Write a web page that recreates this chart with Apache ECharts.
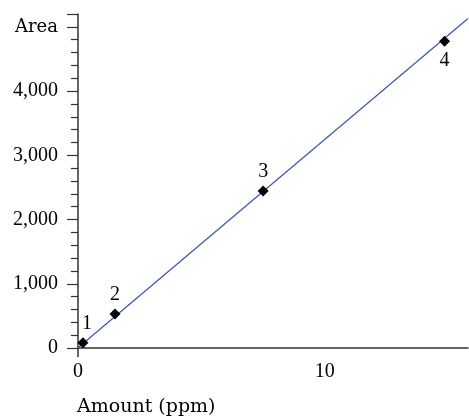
<!DOCTYPE html>
<html><head><meta charset="utf-8">
<script src="https://cdn.jsdelivr.net/npm/echarts@6/dist/echarts.min.js"></script>
<style>html,body{margin:0;padding:0;background:#fff}#c{width:469px;height:418px}</style>
</head><body><div id="c"></div>
<script>
var amounts = [0.2, 1.5, 7.5, 14.85];
var areas = [80, 530, 2445, 4775];
var pointLabels = ['1', '2', '3', '4'];
var labelPositions = ['top', 'top', 'top', 'bottom'];
var fitLineX = [0, 15.8];
var fitLineY = [5, 5130];
var yTickLabels = {0: '0', 1000: '1,000', 2000: '2,000', 3000: '3,000', 4000: '4,000', 5000: 'Area'};
var xTickValues = [0, 10];

var FONT = 'Liberation Serif';
var FONT2 = 'DejaVu Serif';
var chart = echarts.init(document.getElementById('c'), null, {renderer: 'canvas'});
var pts = amounts.map(function (x, i) {
  return {value: [x, areas[i]], label: {show: true, formatter: pointLabels[i], position: labelPositions[i], distance: 4, offset: i === 0 ? [4, 0] : [0, 0]}};
});
chart.setOption({
  animation: false,
  grid: {left: 78, right: 1, top: 14, bottom: 70, containLabel: false},
  title: {text: 'Amount (ppm)', left: 72, top: 393, textStyle: {fontFamily: FONT2, fontSize: 19, fontWeight: 'normal', color: '#000'}},
  xAxis: {
    type: 'value', min: 0, max: 15.8, interval: 10,
    axisLine: {show: true, onZero: false, lineStyle: {color: '#333', width: 1.5}},
    axisTick: {show: true, customValues: [0], length: 9, lineStyle: {color: '#333', width: 1.5}},
    axisLabel: {customValues: xTickValues, fontFamily: FONT, fontSize: 20, color: '#000', margin: 14},
    splitLine: {show: false}
  },
  yAxis: {
    type: 'value', min: 0, max: 5200, interval: 1000,
    axisLine: {show: true, onZero: false, lineStyle: {color: '#333', width: 1.5}},
    axisTick: {show: true, length: 11, lineStyle: {color: '#333', width: 1.2}},
    minorTick: {show: true, splitNumber: 5, length: 7, lineStyle: {color: '#333', width: 1.2}},
    axisLabel: {showMaxLabel: false, fontFamily: FONT, fontSize: 20, color: '#000', margin: 20,
      formatter: function (v) {
        if (v === 5000) return '{a|' + yTickLabels[v] + '}';
        return yTickLabels[v] !== undefined ? yTickLabels[v] : '';
      },
      rich: {a: {fontFamily: FONT2, fontSize: 18, color: '#000'}}},
    splitLine: {show: false}
  },
  series: [
    {type: 'line', data: fitLineX.map(function (x, i) { return [x, fitLineY[i]]; }), symbol: 'none',
      lineStyle: {color: '#3a55b0', width: 1.2}, z: 1},
    {type: 'scatter', data: pts, symbol: 'diamond', symbolSize: 11, itemStyle: {color: '#000', opacity: 1},
      label: {fontFamily: FONT, fontSize: 20, color: '#000'}, z: 3}
  ]
});
</script></body></html>
